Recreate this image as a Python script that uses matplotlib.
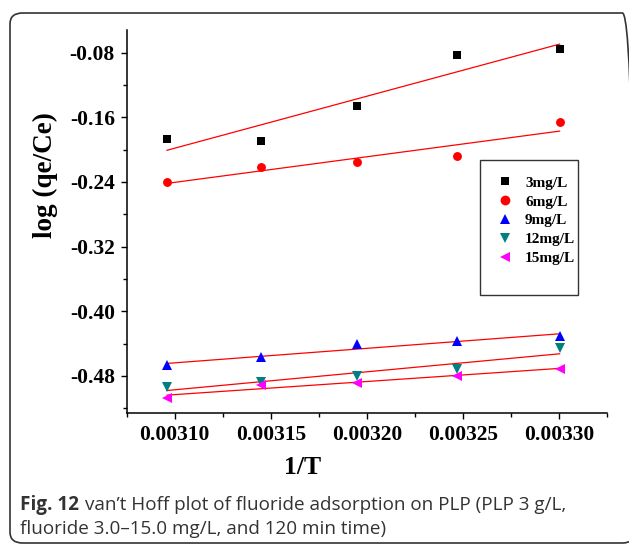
import numpy as np
import matplotlib
matplotlib.use("Agg")
import matplotlib.pyplot as plt
from matplotlib.ticker import MultipleLocator, FormatStrFormatter
from matplotlib.patches import FancyBboxPatch, Rectangle
from matplotlib.lines import Line2D

plt.rcParams["axes.unicode_minus"] = False

# Temperatures (K) and the van't Hoff data
temperature_K = [323, 318, 313, 308, 303]
inv_T = [1.0 / t for t in temperature_K]

series_labels = ["3mg/L", "6mg/L", "9mg/L", "12mg/L", "15mg/L"]
log_qe_ce_3 = [-0.187, -0.189, -0.146, -0.083, -0.076]
log_qe_ce_6 = [-0.240, -0.221, -0.215, -0.208, -0.166]
log_qe_ce_9 = [-0.467, -0.457, -0.441, -0.437, -0.431]
log_qe_ce_12 = [-0.494, -0.488, -0.480, -0.471, -0.446]
log_qe_ce_15 = [-0.507, -0.491, -0.489, -0.480, -0.471]

series_values = [log_qe_ce_3, log_qe_ce_6, log_qe_ce_9, log_qe_ce_12, log_qe_ce_15]
markers = ["s", "o", "^", "v", "<"]
colors = ["#000000", "#ff0000", "#0000ff", "#008080", "#ff00ff"]
marker_sizes = [5.2, 6.4, 6.8, 6.8, 6.8]

W, H = 629, 546
fig = plt.figure(figsize=(W / 100, H / 100), dpi=100)

# Rounded frame around the whole figure
frame = FancyBboxPatch((10 / W, 3 / H), 625 / W, 530 / H,
                       boxstyle="round,pad=0,rounding_size=0.02",
                       transform=fig.transFigure, fill=False,
                       edgecolor="#333333", linewidth=1.2, zorder=0)
fig.patches.append(frame)

ax_l, ax_r, ax_b, ax_t = 126.7, 607, 413, 30
ax = fig.add_axes([ax_l / W, 1 - ax_b / H, (ax_r - ax_l) / W, (ax_b - ax_t) / H])

serif = "Liberation Serif"

x = np.array(inv_T)
for vals, m, c, ms in zip(series_values, markers, colors, marker_sizes):
    y = np.array(vals)
    ax.plot(x, y, linestyle="none", marker=m, color=c, markersize=ms,
            markeredgewidth=0, zorder=3)
    k, b = np.polyfit(x, y, 1)
    ax.plot([x.min(), x.max()], [k * x.min() + b, k * x.max() + b],
            color="#ff0000", linewidth=0.9, zorder=2)

ax.set_xlim(0.003075, 0.003325)
ax.set_ylim(-0.526, -0.052)
ax.xaxis.set_major_locator(MultipleLocator(0.00005))
ax.xaxis.set_minor_locator(MultipleLocator(0.000025))
ax.yaxis.set_major_locator(MultipleLocator(0.08))
ax.yaxis.set_minor_locator(MultipleLocator(0.04))
ax.xaxis.set_major_formatter(FormatStrFormatter("%.5f"))
ax.yaxis.set_major_formatter(FormatStrFormatter("%.2f"))

for s in ["top", "right"]:
    ax.spines[s].set_visible(False)
for s in ["left", "bottom"]:
    ax.spines[s].set_linewidth(1.1)

ax.tick_params(which="major", direction="out", length=4.5, width=1.0, pad=4)
ax.tick_params(which="minor", direction="out", length=2.8, width=1.0)
for lab in ax.get_xticklabels() + ax.get_yticklabels():
    lab.set_fontfamily(serif)
    lab.set_fontweight("bold")
    lab.set_fontsize(15.5)

ax.set_xlabel("1/T", fontfamily=serif, fontweight="bold", fontsize=18.5)
ax.set_ylabel("log (qe/Ce)", fontfamily=serif, fontweight="bold", fontsize=19.5)
ax.xaxis.set_label_coords((303 - ax_l) / (ax_r - ax_l), (ax_b - 468) / (ax_b - ax_t))
ax.xaxis.label.set_va("center")
ax.yaxis.set_label_coords((45 - ax_l) / (ax_r - ax_l), (ax_b - 175) / (ax_b - ax_t))
ax.yaxis.label.set_va("center")

# Legend box
box = Rectangle((480 / W, 1 - 295 / H), 98 / W, 135 / H, transform=fig.transFigure,
                fill=True, facecolor="white", edgecolor="#333333", linewidth=1.0, zorder=5)
fig.patches.append(box)
handles = [Line2D([], [], linestyle="none", marker=m, color=c, markersize=ms * 1.1,
                  markeredgewidth=0)
           for m, c, ms in zip(markers, colors, marker_sizes)]
leg = fig.legend(handles, series_labels, loc="upper left",
                 bbox_to_anchor=(497.5 / W, 1 - 176 / H), frameon=False,
                 prop={"family": serif, "weight": "bold", "size": 11},
                 labelspacing=0.34, handlelength=1.0, handletextpad=0.8,
                 borderpad=0, borderaxespad=0)
leg.set_zorder(6)

# Caption
cap_font = "Open Sans"
cap_size = 13.6
t1 = fig.text(20 / W, 1 - 505 / H, "Fig. 12", fontfamily=cap_font, fontweight="bold",
              fontsize=cap_size, color="#333333", va="center")
fig.canvas.draw()
bb = t1.get_window_extent()
fig.text((bb.x1 + 6) / W, 1 - 505 / H,
         "van\u2019t Hoff plot of fluoride adsorption on PLP (PLP 3 g/L,",
         fontfamily=cap_font, fontsize=cap_size, color="#333333", va="center")
fig.text(20 / W, 1 - 529 / H, "fluoride 3.0\u201315.0 mg/L, and 120 min time)",
         fontfamily=cap_font, fontsize=cap_size, color="#333333", va="center")

fig.savefig("out.png", dpi=100)
